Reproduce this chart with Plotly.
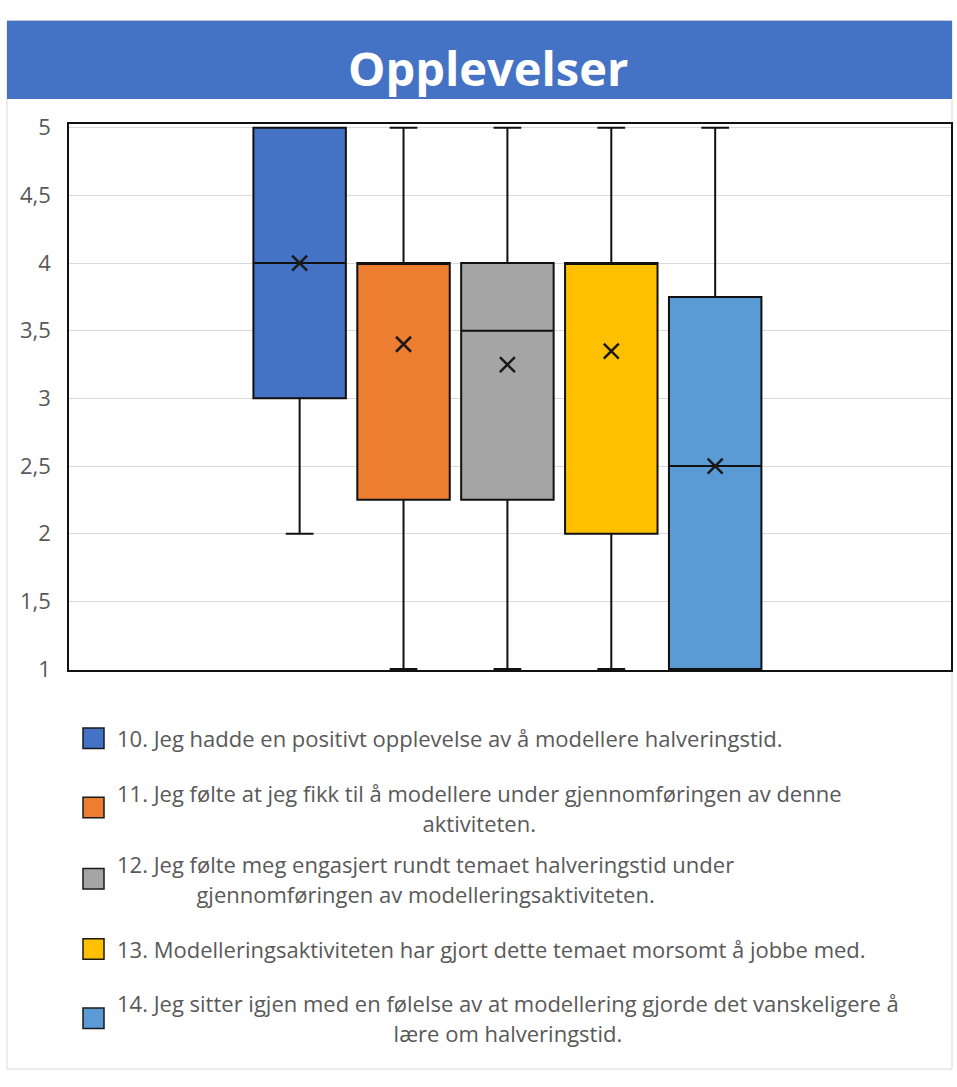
import plotly.graph_objects as go

# Survey statements (legend text, wrapped where the legend wraps them)
statements = [
    "10. Jeg hadde en positivt opplevelse av å modellere halveringstid.",
    "11. Jeg følte at jeg fikk til å modellere under gjennomføringen av denne<br>aktiviteten.",
    "12. Jeg følte meg engasjert rundt temaet halveringstid under<br>gjennomføringen av modelleringsaktiviteten.",
    "13. Modelleringsaktiviteten har gjort dette temaet morsomt å jobbe med.",
    "14. Jeg sitter igjen med en følelse av at modellering gjorde det vanskeligere å<br>lære om halveringstid.",
]
positions = [0, 1, 2, 3, 4]

# Five-number summaries and means per statement (Likert 1-5)
minimum = [2, 1, 1, 1, 1]
quartile1 = [3, 2.25, 2.25, 2, 1]
median = [4, 4, 3.5, 4, 2.5]
quartile3 = [5, 4, 4, 4, 3.75]
maximum = [5, 5, 5, 5, 5]
mean = [4.0, 3.4, 3.25, 3.35, 2.5]

tick_values = [1, 1.5, 2, 2.5, 3, 3.5, 4, 4.5, 5]
tick_labels = ["1", "1,5", "2", "2,5", "3", "3,5", "4", "4,5", "5"]

colors = ["#4472C4", "#ED7D31", "#A5A5A5", "#FFC000", "#5B9BD5"]

W, H = 957, 1087


def px(x):
    return x / W


def py(y):
    return 1 - y / H


fig = go.Figure()

for i in range(len(statements)):
    fig.add_trace(go.Box(
        x=[positions[i]],
        q1=[quartile1[i]],
        median=[median[i]],
        q3=[quartile3[i]],
        lowerfence=[minimum[i]],
        upperfence=[maximum[i]],
        orientation="v",
        name=statements[i],
        fillcolor=colors[i],
        line=dict(color="#111111", width=2),
        width=0.89,
        whiskerwidth=0.3,
        boxpoints=False,
        showlegend=False,
    ))

fig.add_trace(go.Scatter(
    x=positions,
    y=mean,
    mode="markers",
    marker=dict(symbol="x-thin", size=15,
                line=dict(width=2.5, color="#1a1a1a")),
    showlegend=False,
    hoverinfo="y",
))

shapes = [
    # outer chart frame
    dict(type="rect", xref="paper", yref="paper",
         x0=px(7), x1=px(952), y0=py(1082), y1=py(8),
         line=dict(color="#d9d9d9", width=1), fillcolor="rgba(0,0,0,0)", layer="below"),
    # title banner
    dict(type="rect", xref="paper", yref="paper",
         x0=px(7), x1=px(952), y0=py(88), y1=py(8),
         line=dict(width=0), fillcolor="#4472C4", layer="below"),
]

annotations = [
    dict(text="<b>Opplevelser</b>", xref="paper", yref="paper",
         x=px(488), y=py(56), xanchor="center", yanchor="middle",
         showarrow=False, font=dict(family="Open Sans", size=47, color="white")),
]

# legend rows drawn below the plot
row_centers = [743, 814, 887, 959, 1030]
for i, label in enumerate(statements):
    yc = row_centers[i]
    shapes.append(dict(type="rect", xref="paper", yref="paper",
                       x0=px(83), x1=px(104), y0=py(yc + 10.5), y1=py(yc - 10.5),
                       line=dict(color="#1a1a1a", width=1.5), fillcolor=colors[i]))
    lines = label.split("<br>")
    text = "<br>".join(f"<span style='font-size:22px'>{ln}</span>" for ln in lines)
    annotations.append(dict(text=text, xref="paper", yref="paper",
                            x=px(115), y=py(yc), xanchor="left", yanchor="middle",
                            align="center", showarrow=False,
                            font=dict(family="Open Sans", size=23, color="#595959")))

fig.update_layout(
    width=W, height=H,
    margin=dict(l=0, r=0, t=0, b=0),
    paper_bgcolor="white",
    plot_bgcolor="white",
    showlegend=False,
    shapes=shapes,
    annotations=annotations,
    xaxis=dict(domain=[px(69), px(951)], range=[-2.22, 6.27],
               showticklabels=False, showgrid=False, zeroline=False,
               showline=True, mirror=True, linecolor="#111111", linewidth=1.5),
    yaxis=dict(domain=[py(673), py(114)], range=[0.993, 5.026],
               tickvals=tick_values, ticktext=tick_labels,
               tickfont=dict(family="Open Sans", size=22, color="#595959"),
               ticklabelstandoff=12,
               showgrid=True, gridcolor="#d9d9d9", gridwidth=1, zeroline=False,
               showline=True, mirror=True, linecolor="#111111", linewidth=1.5),
)

fig.write_html("out.html")
